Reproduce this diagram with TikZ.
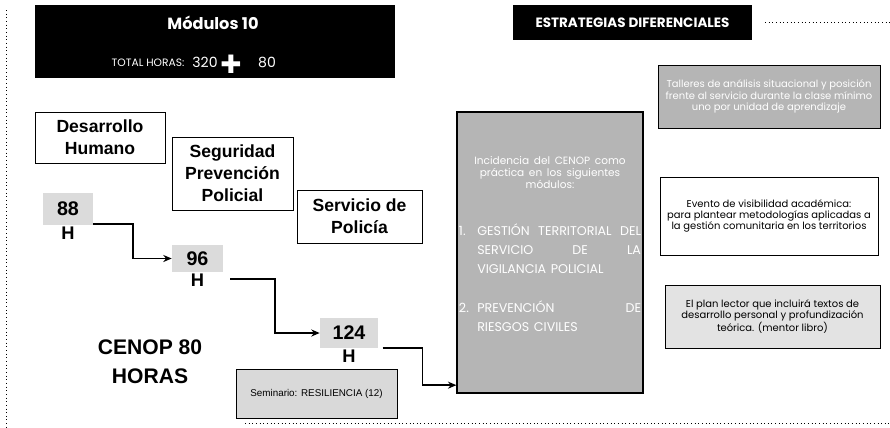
\documentclass[tikz,border=0pt]{standalone}
\usepackage{fontspec}
\setmainfont{Liberation Sans}
\newfontfamily\gothic{Poppins}
\newfontfamily\simbolos{DejaVu Sans}
\usepackage{xcolor}
\usepackage{tikz}
\usetikzlibrary{positioning,calc,arrows.meta}

% ancho del texto dentro de la caja gris
\newcommand{\anchoinc}{4.55cm}
% sangría de los módulos
\newcommand{\sangria}{13pt}

\begin{document}
\begin{tikzpicture}[
	% --- ESCALA: una unidad = un punto de la imagen ---
	x=0.025cm, y=-0.025cm,
	% --- CAJAS ---
	titulo/.style={fill=black, text=white, inner sep=0pt},
	area/.style={draw, line width=0.6pt, align=center, inner sep=2pt,
		font=\fontsize{12.5}{15.5}\selectfont\bfseries},
	horas/.style={fill=gray!28, inner sep=0pt, font=\fontsize{14}{14}\selectfont\bfseries},
	hache/.style={inner sep=0pt, font=\fontsize{13}{13}\selectfont\bfseries},
	% Cajas de la derecha (estrategias)
	estrategia/.style={draw, line width=0.6pt, align=center, inner sep=2pt,
		font=\gothic\fontsize{7.1}{8}\selectfont},
	% Flechas entre las horas
	flecha/.style={line width=1.3pt, -{Stealth[length=6pt,width=5pt]}},
	punteada/.style={dotted, line width=0.6pt}
	]
	\useasboundingbox (0,0) rectangle (890,428);
	
	% Encabezado izquierdo
	\node[titulo, minimum width=9cm, minimum height=1.825cm] (cabecera) at (215,41.5) {};
	\node[text=white, font=\gothic\bfseries\fontsize{11.5}{11.5}\selectfont] (modulos) at (213,23) {Módulos 10};
	\node[text=white, font=\gothic\fontsize{7.6}{7.6}\selectfont] (total) at (148,63) {TOTAL HORAS:};
	\node[text=white, font=\gothic\fontsize{10}{10}\selectfont] (n320) at (205,62) {320};
	\node[text=white, font=\simbolos\fontsize{18}{18}\selectfont, inner sep=0pt] (mas) at (231,64) {✚};
	\node[text=white, font=\gothic\fontsize{10}{10}\selectfont] (n80) at (267,62) {80};
	
	% Encabezado derecho
	\node[titulo, minimum width=5.975cm, minimum height=0.875cm,
		font=\gothic\bfseries\fontsize{9.6}{9.6}\selectfont] (estrategias) at (632.5,22.5) {ESTRATEGIAS DIFERENCIALES};
	\coordinate (lineaA) at (765,22);
	\coordinate (lineaB) at (890,22);
	\draw[punteada] (lineaA) -- (lineaB);
	
	% Bordes punteados
	\coordinate (izqA) at (6,10);
	\coordinate (izqB) at (6,428);
	\draw[punteada] (izqA) -- (izqB);
	\coordinate (abajoA) at (245,423);
	\coordinate (abajoB) at (890,423);
	\draw[punteada] (abajoA) -- (abajoB);
	
	% Áreas
	\node[area, minimum width=3.25cm, minimum height=1.275cm] (humano) at (100,137.5) {Desarrollo\\Humano};
	\node[area, minimum width=3.025cm, minimum height=1.825cm] (seguridad) at (232.5,173.5) {Seguridad\\Prevención\\Policial};
	\node[area, minimum width=3.125cm, minimum height=1.325cm] (servicio) at (359.5,216.5) {Servicio de\\Policía};
	
	% Horas por área
	\node[horas, minimum width=1.25cm, minimum height=0.8cm] (h88) at (68,209) {88};
	\node[hache, below=1pt of h88] (hh88) {H};
	\node[horas, minimum width=1.275cm, minimum height=0.675cm] (h96) at (197.5,258.5) {96};
	\node[hache, below=1pt of h96] (hh96) {H};
	\node[horas, minimum width=1.45cm, minimum height=0.75cm] (h124) at (349,333) {124};
	\node[hache, below=1pt of h124] (hh124) {H};
	
	% CENOP
	\node[align=center, font=\fontsize{15}{20.5}\selectfont\bfseries] (cenop80) at (150,362) {CENOP 80\\HORAS};
	\node[draw, line width=0.6pt, fill=gray!30, minimum width=4.025cm, minimum height=1.225cm,
		font=\fontsize{7}{7}\selectfont] (seminario) at (316.5,393.5) {Seminario: RESILIENCIA (12)};
	
	\node[draw, line width=0.8pt, fill=gray!58, text=white, minimum width=4.65cm, minimum height=7.025cm,
		text width=\anchoinc, align=center, inner sep=1pt, font=\gothic] (incidencia) at (550,252.5) {%
		\fontsize{7.5}{8.6}\selectfont Incidencia del CENOP como\\ práctica en los siguientes\\ módulos:\\[20pt]
		\fontsize{9}{13.3}\selectfont
		\makebox[\anchoinc][s]{\makebox[\sangria][l]{1.}GESTIÓN\hfill TERRITORIAL\hfill DEL}\\
		\makebox[\anchoinc][s]{\hspace*{\sangria}SERVICIO\hfill DE\hfill LA}\\
		\makebox[\anchoinc][s]{\hspace*{\sangria}VIGILANCIA POLICIAL\hfill}\\[15pt]
		\makebox[\anchoinc][s]{\makebox[\sangria][l]{2.}PREVENCIÓN\hfill DE}\\
		\makebox[\anchoinc][s]{\hspace*{\sangria}RIESGOS CIVILES\hfill}\\[0pt]
		\mbox{}};
	
	% Flechas
	\draw[flecha] ([yshift=1pt]h88.south east) -- ++(40,0) |- (h96.west);
	\draw[flecha] ([xshift=5pt,yshift=-5pt]h96.south east) -- ++(45,0) |- (h124.west);
	\draw[flecha] ([xshift=3pt]h124.south east) -- ++(40,0) |- ([yshift=6pt]incidencia.south west);
	
	% Estrategias diferenciales
	\node[estrategia, fill=gray!58, text=white, minimum width=5.55cm, minimum height=1.575cm] (talleres) at (769,96.5)
		{Talleres de análisis situacional y posición\\ frente al servicio durante la clase mínimo\\ uno por unidad de aprendizaje};
	\node[estrategia, minimum width=5.45cm, minimum height=1.95cm] (evento) at (769,216)
		{Evento de visibilidad académica:\\ para plantear metodologías aplicadas a\\ la gestión comunitaria en los territorios};
	\node[estrategia, fill=gray!22, minimum width=5.375cm, minimum height=1.575cm] (plan) at (772.5,316.5)
		{El plan lector que incluirá textos de\\ desarrollo personal y profundización\\ teórica. (mentor libro)};
\end{tikzpicture}
\end{document}
